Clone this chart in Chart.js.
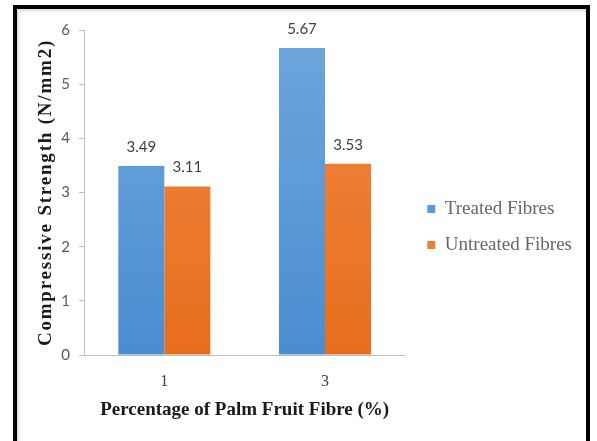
<!DOCTYPE html>
<html>
<head>
<meta charset="utf-8">
<script src="https://cdn.jsdelivr.net/npm/chart.js@4.4.1/dist/chart.umd.min.js"></script>
<style>
    html, body { margin: 0; padding: 0; background: #fff; overflow: hidden; }
    #wrap { position: relative; width: 597px; height: 441px; }
    #frame {
        position: absolute; left: 13px; top: 5px; width: 569px; height: 470px;
        border: 4px solid #000; pointer-events: none;
        box-shadow: inset 2px 2px 3px rgba(0,0,0,0.15);
    }
</style>
</head>
<body>
<div id="wrap">
    <canvas id="grafico" width="597" height="441"></canvas>
    <div id="frame"></div>
</div>
<script>
// datos del grafico
const categorias = ['1', '3'];
const tratadas = [3.49, 5.67];
const noTratadas = [3.11, 3.53];
const nombresSeries = ['Treated Fibres', 'Untreated Fibres'];
const ticksY = [0, 1, 2, 3, 4, 5, 6];

const azul = '#5b9bd5';
const naranja = '#ed7d31';

function degradado(ctx, arriba, abajo) {
    const area = ctx.chart.chartArea;
    if (!area) return abajo;
    const g = ctx.chart.ctx.createLinearGradient(0, area.top, 0, area.bottom);
    g.addColorStop(0, arriba);
    g.addColorStop(1, abajo);
    return g;
}

// etiquetas de valores encima de las barras
const etiquetasValores = {
    id: 'etiquetasValores',
    afterDatasetsDraw(chart) {
        const ctx = chart.ctx;
        ctx.save();
        ctx.font = '15px Lato';
        ctx.fillStyle = '#404040';
        ctx.textAlign = 'center';
        ctx.textBaseline = 'middle';
        chart.data.datasets.forEach((ds, i) => {
            chart.getDatasetMeta(i).data.forEach((bar, j) => {
                ctx.fillText(ds.data[j].toFixed(2), bar.x, bar.y - 19);
            });
        });
        ctx.restore();
    }
};

// mover la leyenda un poco a la derecha y espaciar el titulo del eje Y
const ajustes = {
    id: 'ajustes',
    afterLayout(chart) {
        chart.legend.left += 5;
        chart.legend.right += 5;
    },
    beforeDraw(chart) {
        const y = chart.scales.y;
        if (y._espaciado) return;
        const original = y.drawTitle;
        y.drawTitle = function (area) {
            chart.ctx.save();
            chart.ctx.letterSpacing = '1.8px';
            original.call(this, area);
            chart.ctx.restore();
        };
        y._espaciado = true;
    }
};

new Chart(document.getElementById('grafico'), {
    type: 'bar',
    data: {
        labels: categorias,
        datasets: [{
            label: nombresSeries[0],
            data: tratadas,
            backgroundColor: ctx => degradado(ctx, '#6fa6dc', '#4a8dd0'),
            borderWidth: 0
        }, {
            label: nombresSeries[1],
            data: noTratadas,
            backgroundColor: ctx => degradado(ctx, '#f38a44', '#e66d1c'),
            borderWidth: 0
        }]
    },
    options: {
        responsive: false,
        animation: false,
        layout: { padding: { top: 30, right: 20, bottom: 0, left: 0 } },
        categoryPercentage: 0.573,
        barPercentage: 1,
        plugins: {
            tooltip: { enabled: false },
            legend: {
                position: 'right',
                fullSize: false,
                maxWidth: 220,
                align: 'center',
                title: { display: true, text: ' ', font: { size: 10 }, padding: { top: 57, bottom: 0 } },
                labels: {
                    boxWidth: 8,
                    boxHeight: 8,
                    padding: 17,
                    color: '#3a3a3a',
                    font: { family: 'Liberation Serif', size: 19 },
                    generateLabels: chart => chart.data.datasets.map((ds, i) => ({
                        text: ds.label,
                        fillStyle: i === 0 ? azul : naranja,
                        strokeStyle: i === 0 ? azul : naranja,
                        lineWidth: 0,
                        datasetIndex: i
                    }))
                }
            }
        },
        scales: {
            x: {
                afterFit: scale => { scale.height = 86; },
                grid: { display: false, drawTicks: false },
                border: { color: '#bfbfbf', width: 1 },
                ticks: {
                    padding: 17,
                    color: '#404040',
                    font: { family: 'Liberation Serif', size: 16 }
                },
                title: {
                    display: true,
                    text: 'Percentage of Palm Fruit Fibre (%)',
                    color: '#1a1a1a',
                    font: { family: 'Liberation Serif', size: 19, weight: 'bold' },
                    padding: { top: 0, bottom: 20 }
                }
            },
            y: {
                min: 0,
                max: 6,
                afterFit: scale => { scale.width = 84; },
                afterBuildTicks: scale => { scale.ticks = ticksY.map(v => ({ value: v })); },
                grid: { drawOnChartArea: false, tickLength: 5, color: '#bfbfbf' },
                border: { color: '#bfbfbf', width: 1 },
                ticks: {
                    padding: 9,
                    color: '#595959',
                    font: { family: 'Lato', size: 15 }
                },
                title: {
                    display: true,
                    text: 'Compressive Strength (N/mm2)',
                    color: '#1a1a1a',
                    font: { family: 'Liberation Serif', size: 19, weight: 'bold' },
                    padding: { top: 35, bottom: 0 }
                }
            }
        }
    },
    plugins: [etiquetasValores, ajustes]
});
</script>
</body>
</html>
